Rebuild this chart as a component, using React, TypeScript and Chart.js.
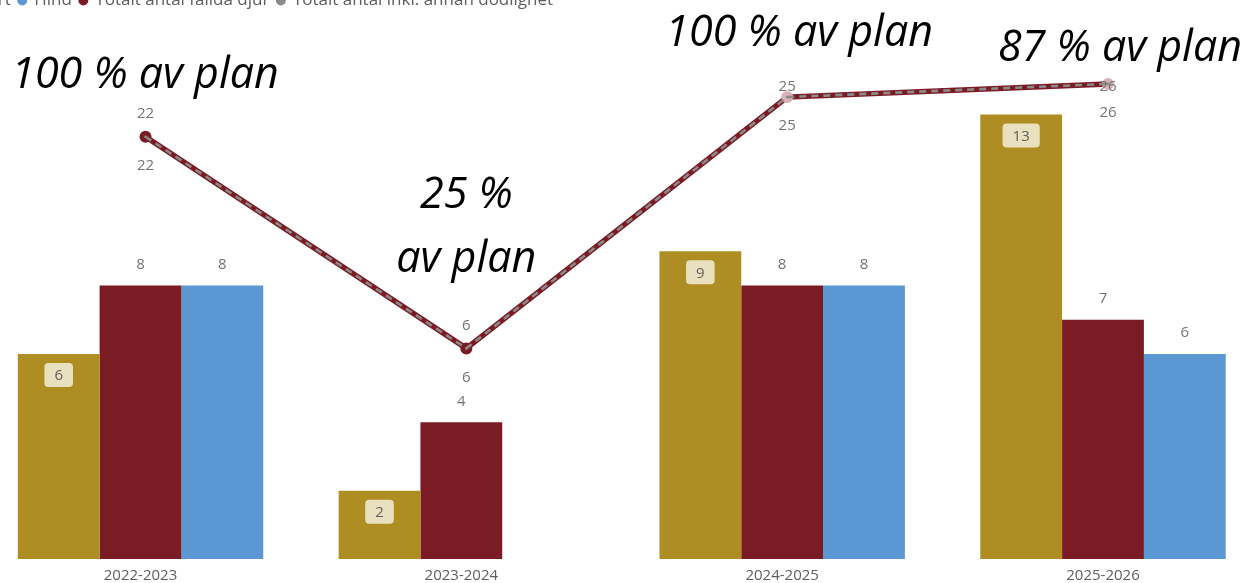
import React, { useEffect, useRef } from 'react';
import { Chart, registerables } from 'chart.js';

Chart.register(...registerables);

// ---- data ----
const categories = ['2022-2023', '2023-2024', '2024-2025', '2025-2026'];
const kalv = [6, 2, 9, 13];
const hjort = [8, 4, 8, 7];
const hind = [8, null, 8, 6];
const totaltFallda = [22, 6, 25, 26];
const totaltInklAnnan = [22, 6, 25, 26];
const seriesNames = ['Kalv', 'Hjort', 'Hind', 'Totalt antal fällda djur', 'Totalt antal inkl. annan dödlighet'];
const annotationTexts = [['100 % av plan'], ['25 %', 'av plan'], ['100 % av plan'], ['87 % av plan']];

// ---- styling / layout ----
const GOLD = '#AE8E22';
const DARKRED = '#7B1C25';
const BLUE = '#5B97D3';
const GREY = '#8A8A8A';
const PINK = '#D9B1B6';
const LABEL_GREY = '#737373';
const FONT = '"Open Sans", "Noto Sans", sans-serif';

const L = 109; // canvas shifted left
const T = 16; // canvas shifted up
const W = 1386;
const H = 599;
const AREA_LEFT = -19.9; // page x of chart area left
const AREA_RIGHT = 1263.4; // page x of chart area right
const LINE_SHIFT = 5;
const annotationLayout = [
  { dx: 4.5, ys: [69] },
  { dx: 5, ys: [189, 253] },
  { dx: 17, ys: [27] },
  { dx: 17, ys: [42] },
];

const overlayPlugin = {
  id: 'overlay',
  beforeDatasetDraw(chart: any, args: any) {
    if (args.index >= 3) {
      chart.ctx.save();
      chart.ctx.translate(LINE_SHIFT, 0);
    }
  },
  afterDatasetDraw(chart: any, args: any) {
    if (args.index >= 3) chart.ctx.restore();
  },
  afterDatasetsDraw(chart: any) {
    const ctx = chart.ctx as CanvasRenderingContext2D;
    const area = chart.chartArea;
    ctx.save();
    ctx.textAlign = 'center';
    ctx.textBaseline = 'middle';
    ctx.font = `15px ${FONT}`;
    // value labels above dark red and blue bars
    [1, 2].forEach((di) => {
      const meta = chart.getDatasetMeta(di);
      meta.data.forEach((el: any, j: number) => {
        const v = chart.data.datasets[di].data[j];
        if (v == null) return;
        ctx.fillStyle = LABEL_GREY;
        ctx.fillText(String(v), el.x, el.y - 21);
      });
    });
    // badges inside gold bars
    {
      const meta = chart.getDatasetMeta(0);
      meta.data.forEach((el: any, j: number) => {
        const v = chart.data.datasets[0].data[j];
        if (v == null) return;
        const txt = String(v);
        const w = ctx.measureText(txt).width + 20;
        const h = 24;
        const top = el.y + 9;
        ctx.fillStyle = '#E9E0C0';
        ctx.beginPath();
        (ctx as any).roundRect(el.x - w / 2, top, w, h, 4);
        ctx.fill();
        ctx.fillStyle = '#605E5C';
        ctx.fillText(txt, el.x, top + h / 2 + 1);
      });
    }
    // line labels
    {
      const metaBelow = chart.getDatasetMeta(3);
      metaBelow.data.forEach((el: any, j: number) => {
        const v = chart.data.datasets[3].data[j];
        ctx.fillStyle = LABEL_GREY;
        ctx.fillText(String(v), el.x + LINE_SHIFT, el.y + 29);
      });
      const metaAbove = chart.getDatasetMeta(4);
      metaAbove.data.forEach((el: any, j: number) => {
        const v = chart.data.datasets[4].data[j];
        ctx.fillStyle = LABEL_GREY;
        ctx.fillText(String(v), el.x + LINE_SHIFT, Math.max(el.y - 23, area.top + 68));
      });
    }
    // annotations
    ctx.font = `italic 43px ${FONT}`;
    ctx.fillStyle = '#000000';
    ctx.textBaseline = 'alphabetic';
    const xs = chart.scales.x;
    annotationTexts.forEach((lines, i) => {
      const lay = annotationLayout[i];
      const cx = xs.getPixelForValue(i) + lay.dx;
      lines.forEach((line, k) => {
        ctx.fillText(line, cx, area.top + lay.ys[k]);
      });
    });
    ctx.restore();
  },
};

export default function App() {
  const ref = useRef<HTMLCanvasElement>(null);
  useEffect(() => {
    if (!ref.current) return;
    const chart = new Chart(ref.current, {
      type: 'bar',
      data: {
        labels: categories,
        datasets: [
          { type: 'bar', label: seriesNames[0], data: kalv, backgroundColor: GOLD, yAxisID: 'y', order: 3 },
          { type: 'bar', label: seriesNames[1], data: hjort, backgroundColor: DARKRED, yAxisID: 'y', order: 3 },
          { type: 'bar', label: seriesNames[2], data: hind as any, backgroundColor: BLUE, yAxisID: 'y', order: 3 },
          {
            type: 'line', label: seriesNames[3], data: totaltFallda, yAxisID: 'y2', order: 2,
            borderColor: DARKRED, backgroundColor: DARKRED, borderWidth: 5.5,
            pointRadius: 6, pointBorderWidth: 0,
            pointBackgroundColor: [DARKRED, DARKRED, PINK, PINK],
          },
          {
            type: 'line', label: seriesNames[4], data: totaltInklAnnan, yAxisID: 'y2', order: 1,
            borderColor: GREY, backgroundColor: GREY, borderWidth: 2.6, borderDash: [7, 5],
            pointRadius: 1.3, pointBorderWidth: 0, pointBackgroundColor: GREY,
          },
        ] as any,
      },
      options: {
        animation: false,
        responsive: true,
        maintainAspectRatio: false,
        layout: { padding: 0 },
        datasets: { bar: { categoryPercentage: 0.765, barPercentage: 1 } } as any,
        plugins: {
          tooltip: { enabled: false },
          legend: {
            display: true,
            position: 'top',
            align: 'start',
            labels: {
              usePointStyle: true,
              pointStyle: 'circle',
              boxWidth: 7,
              boxHeight: 7,
              padding: 8,
              color: '#605E5C',
              font: { family: FONT, size: 17 },
              sort: (a: any, b: any) => a.datasetIndex - b.datasetIndex,
              generateLabels: (c: any) => {
                const items = (Chart.defaults.plugins.legend.labels as any).generateLabels(c);
                return items.map((it: any) => ({ ...it, lineWidth: 0, strokeStyle: 'rgba(0,0,0,0)', lineDash: [], pointStyle: 'circle' }));
              },
            },
          },
        },
        scales: {
          x: {
            offset: true,
            grid: { display: false, drawTicks: false },
            border: { display: false },
            ticks: { color: '#605E5C', font: { family: FONT, size: 15 }, padding: 8 },
            afterFit: (a: any) => { a.height = H - 575; },
          },
          y: {
            position: 'left',
            min: 0,
            max: 541 / 34.25,
            grid: { display: false, drawTicks: false },
            border: { display: false },
            ticks: { display: false },
            afterFit: (a: any) => { a.width = L + AREA_LEFT; },
          },
          y2: {
            position: 'right',
            min: -(575 - 443.5) / 13.25,
            max: (443.5 - 34) / 13.25,
            grid: { display: false, drawTicks: false },
            border: { display: false },
            ticks: { display: false },
            afterFit: (a: any) => { a.width = W - (AREA_RIGHT + L); },
          },
        },
      } as any,
      plugins: [overlayPlugin],
    });
    return () => chart.destroy();
  }, []);

  return (
    <div style={{ position: 'fixed', left: 0, top: 0, right: 0, bottom: 0, overflow: 'hidden', background: '#fff' }}>
      <div style={{ position: 'absolute', left: -L, top: -T, width: W, height: H }}>
        <canvas ref={ref} />
      </div>
    </div>
  );
}
